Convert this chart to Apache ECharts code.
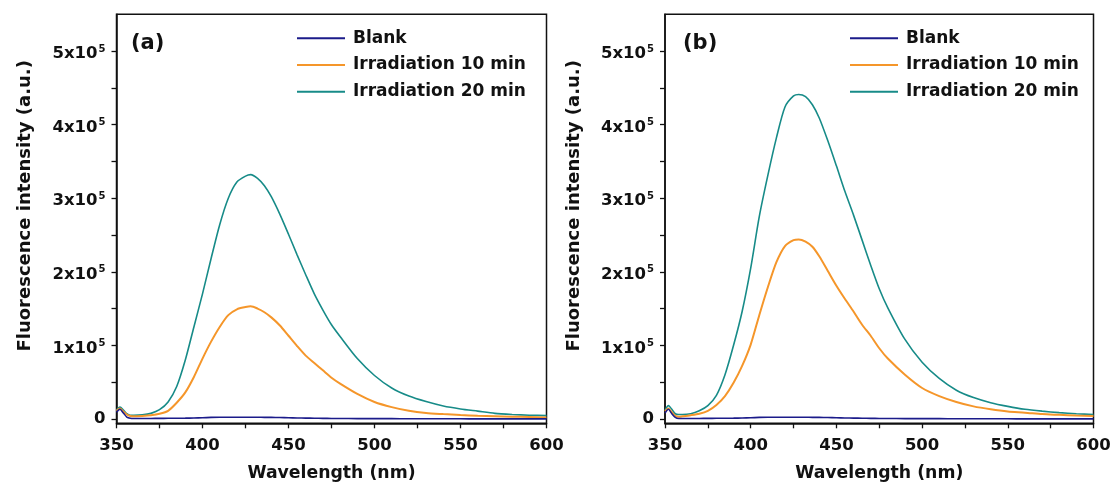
<!DOCTYPE html>
<html>
<head>
<meta charset="utf-8">
<script src="https://cdn.jsdelivr.net/npm/echarts@6/dist/echarts.min.js"></script>
<style>
  html, body { margin: 0; padding: 0; background: #fff; }
  #chart { width: 1115px; height: 489px; }
</style>
</head>
<body>
<div id="chart"></div>
<script>
// Emission wavelengths (nm), shared by every trace
const wavelength = [350,352,354,356,358,360,365,370,375,380,385,390,395,400,405,410,415,420,425,428,432,436,440,445,450,455,460,465,470,475,480,490,500,510,520,530,540,550,560,570,580,590,600];

// Panel (a) fluorescence intensity (a.u.)
const blankA = [9000,13000,8000,2500,800,500,500,600,700,800,900,1000,1200,1500,2000,2200,2200,2300,2300,2300,2200,2100,2000,1800,1500,1300,1100,900,700,600,500,400,300,300,200,200,100,100,0,0,0,0,0];
const irr10A = [11000,14000,10000,6000,4000,3500,4000,5000,7000,11000,22000,36000,57000,82000,105000,125000,141000,149000,152000,153000,150000,145000,138000,127000,113000,99000,86000,76000,66000,56000,48000,34000,23000,16000,11000,8000,6500,5200,4300,3600,3000,2500,2000];
const irr20A = [12000,16000,12000,7000,5000,5000,5500,7500,12500,23000,44000,80000,125000,170000,218000,264000,300000,322000,330000,332000,327000,317000,302000,278000,251000,223000,196000,170000,148000,128000,112000,82000,59000,42000,31000,23500,17500,13500,10500,7500,6000,5000,4500];

// Panel (b) fluorescence intensity (a.u.)
const blankB = [8000,13000,7000,2000,500,500,500,600,700,800,900,1000,1200,1500,2000,2200,2300,2300,2300,2300,2200,2100,2000,1800,1500,1300,1100,900,700,600,500,400,300,300,200,200,100,100,0,0,0,0,0];
const irr10B = [10000,14000,9000,4000,3000,3500,5000,7000,11000,19000,31000,49000,72000,101000,141000,179000,213000,235000,243000,244000,241000,234000,221000,201000,181000,163000,146000,128000,113000,96000,82000,60000,42000,31000,23000,17000,13000,10000,8500,6500,5500,4500,4000];
const irr20B = [12000,18000,13000,7000,6000,6000,7000,11000,18000,32000,60000,100000,146000,205000,275000,331000,382000,424000,439000,441000,438000,427000,409000,378000,344000,309000,277000,243000,209000,177000,151000,108000,77000,55000,39000,29000,22000,17000,13000,10500,8500,7000,6000];

// Axis ticks
const xTicks = [350,375,400,425,450,475,500,525,550,575,600];
const xLabels = [350,400,450,500,550,600];
const yTicks = [0,50000,100000,150000,200000,250000,300000,350000,400000,450000,500000];
const yLabels = [0,100000,200000,300000,400000,500000];

const seriesNames = ['Blank', 'Irradiation 10 min', 'Irradiation 20 min'];
const panelTags = ['(a)', '(b)'];

const FONT = '"DejaVu Sans", sans-serif';
const INK = '#111';
const colors = ['#1b1b8a', '#f5962a', '#178b88'];
const widths = [1.6, 2, 1.6];

const pairs = (ys) => wavelength.map((w, i) => [w, ys[i]]);

const grids = [
  { left: 116.5, right: 568.5, top: 14.3, bottom: 65.7 },
  { left: 665, right: 21.5, top: 14.3, bottom: 65.7 }
];

function xAxis(i) {
  return {
    type: 'value', gridIndex: i, min: 350, max: 600,
    name: 'Wavelength (nm)', nameLocation: 'middle', nameGap: 42,
    nameTextStyle: { fontFamily: FONT, fontWeight: 'bold', fontSize: 17.3, color: INK },
    axisLine: { show: true, onZero: false, lineStyle: { color: INK, width: 1.5 } },
    axisTick: { show: true, inside: false, length: 5, customValues: xTicks, lineStyle: { color: INK, width: 1.3 } },
    axisLabel: { customValues: xLabels, margin: 14, fontFamily: FONT, fontWeight: 'bold', fontSize: 16.5, color: INK },
    splitLine: { show: false }
  };
}

function yAxis(i) {
  return {
    type: 'value', gridIndex: i, min: -6000, max: 550000,
    name: 'Fluorescence intensity (a.u.)', nameLocation: 'middle', nameGap: 82, nameRotate: 90,
    nameTextStyle: { fontFamily: FONT, fontWeight: 'bold', fontSize: 18, color: INK, padding: [0, 0, 0, 26] },
    axisLine: { show: true, onZero: false, lineStyle: { color: INK, width: 1.5 } },
    axisTick: { show: true, inside: false, length: 5, customValues: yTicks, lineStyle: { color: INK, width: 1.3 } },
    axisLabel: {
      customValues: yLabels, margin: 11, color: INK,
      formatter: (v) => v === 0 ? '{z|0}' : '{b|' + Math.round(v / 100000) + 'x10}{s|5}',
      rich: {
        z: { fontFamily: FONT, fontWeight: 'bold', fontSize: 16.5, color: INK },
        b: { fontFamily: FONT, fontWeight: 'bold', fontSize: 16.5, color: INK, lineHeight: 20, padding: [6, 0, 0, 0] },
        s: { fontFamily: FONT, fontWeight: 'bold', fontSize: 10, color: INK, lineHeight: 12, verticalAlign: 'top', padding: [3, 0, 0, 1] }
      }
    },
    splitLine: { show: false }
  };
}

const panelData = [[blankA, irr10A, irr20A], [blankB, irr10B, irr20B]];
const series = [];
panelData.forEach((set, p) => {
  set.forEach((ys, k) => {
    series.push({
      type: 'line', name: seriesNames[k], xAxisIndex: p, yAxisIndex: p,
      data: pairs(ys), showSymbol: false, smooth: 0.25, z: 2 + (2 - k),
      lineStyle: { color: colors[k], width: widths[k] }, itemStyle: { color: colors[k] }
    });
  });
});

const legendLefts = [297, 850];
const tagLefts = [131, 683];

const option = {
  backgroundColor: '#fff',
  animation: false,
  grid: grids.map(g => Object.assign({ show: true, borderColor: INK, borderWidth: 1.5, backgroundColor: 'transparent' }, g)),
  xAxis: [xAxis(0), xAxis(1)],
  yAxis: [yAxis(0), yAxis(1)],
  title: panelTags.map((t, i) => ({
    text: t, left: tagLefts[i], top: 33, padding: 0,
    textStyle: { fontFamily: FONT, fontWeight: 'bold', fontSize: 21, color: INK }
  })),
  legend: legendLefts.map(l => ({
    data: seriesNames, orient: 'vertical', left: l, top: 28.3, padding: 0,
    icon: 'rect', itemWidth: 48, itemHeight: 2, itemGap: 6.7,
    textStyle: { fontFamily: FONT, fontWeight: 'bold', fontSize: 17, color: INK, lineHeight: 20, padding: [0, 0, 0, 3] },
    selectedMode: false
  })),
  series: series
};

const chart = echarts.init(document.getElementById('chart'), null, { renderer: 'canvas' });
chart.setOption(option);
</script>
</body>
</html>
